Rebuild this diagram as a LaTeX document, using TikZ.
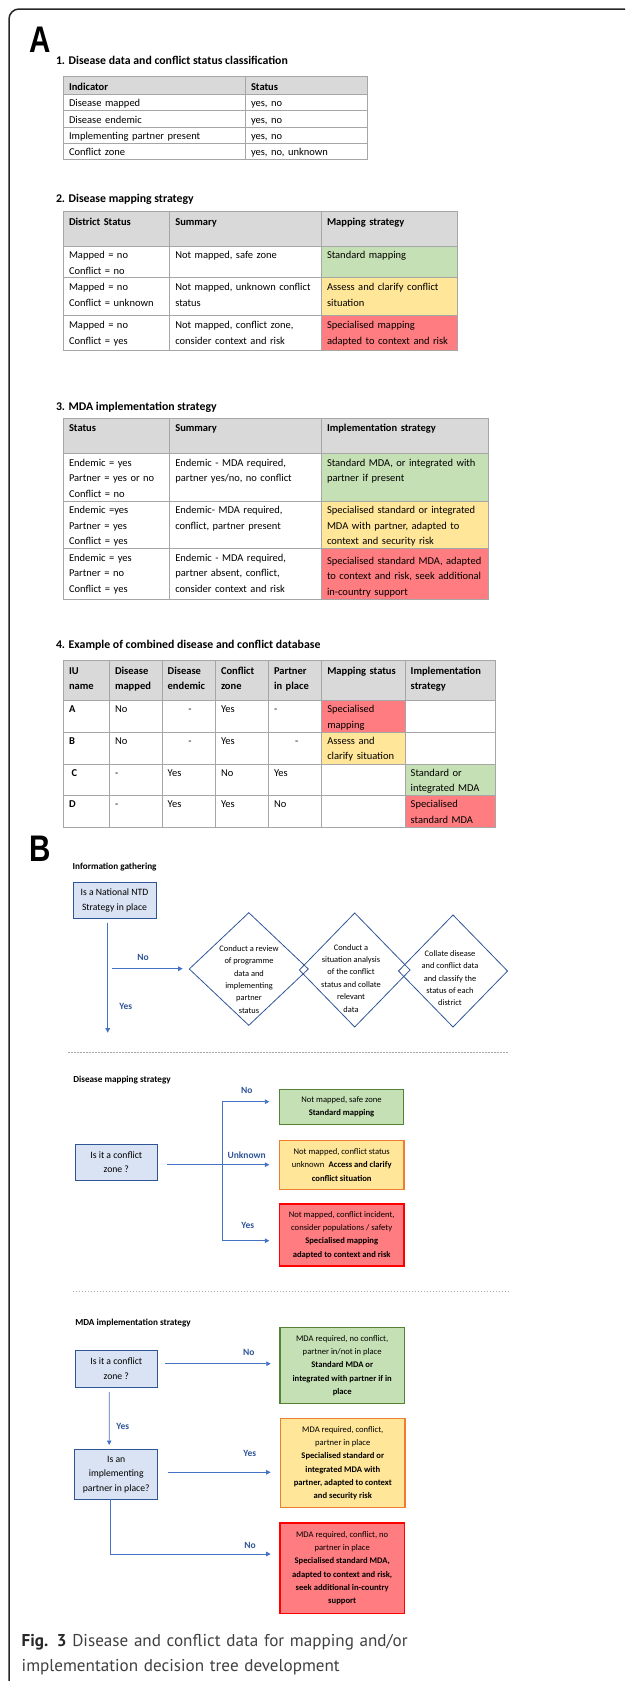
\documentclass[tikz,border=0pt]{standalone}
\usepackage{fontspec}
\setmainfont{Carlito}
\newfontfamily\captionfont{PT Sans}
\newfontfamily\panelfont{Liberation Sans}
\usetikzlibrary{arrows.meta,shapes.geometric}

\definecolor{headgray}{HTML}{D9D9D9}
\definecolor{tabline}{HTML}{A6A6A6}
\definecolor{okgreen}{HTML}{C5E0B4}
\definecolor{okgreenline}{HTML}{548235}
\definecolor{warnyellow}{HTML}{FFE699}
\definecolor{warnorange}{HTML}{ED7D31}
\definecolor{riskred}{HTML}{FF7C80}
\definecolor{riskredline}{HTML}{FF0000}
\definecolor{qblue}{HTML}{DAE3F3}
\definecolor{qblueline}{HTML}{2F5597}
\definecolor{flowblue}{HTML}{4472C4}
\definecolor{labelblue}{HTML}{2F5597}

\begin{document}
\begin{tikzpicture}[x=1pt,y=-1pt,
    every node/.style={inner sep=0pt,outer sep=0pt},
    panel/.style={anchor=base west,font=\panelfont\bfseries\fontsize{37}{40}\selectfont},
    sectitle/.style={anchor=base west,font=\bfseries\fontsize{11.8}{14}\selectfont},
    subtitle/.style={anchor=base west,font=\bfseries\fontsize{9.2}{11}\selectfont},
    cell/.style={anchor=base west,align=left,text width=#1,font=\fontsize{10.5}{15.5}\selectfont},
    cell/.default=40pt,
    headcell/.style={cell=#1,font=\bfseries\fontsize{10.5}{15.5}\selectfont},
    headcell/.default=40pt,
    grid/.style={draw=tabline,line width=0.9pt},
    question/.style={draw=qblueline,fill=qblue,line width=0.9pt,align=center,font=\fontsize{9.7}{14.2}\selectfont},
    outcome/.style={line width=1.2pt,align=center,font=\fontsize{8.6}{13.3}\selectfont},
    infodiamond/.style={diamond,draw=qblueline,line width=0.8pt},
    diamondtext/.style={align=center,font=\fontsize{8.4}{12.4}\selectfont},
    answer/.style={font=\bfseries\fontsize{9.5}{11}\selectfont,text=labelblue},
    flow/.style={draw=flowblue,line width=0.9pt,-{Triangle[length=4.5pt,width=4.5pt]}},
    flowline/.style={draw=flowblue,line width=0.9pt},
    sepline/.style={draw=black!35,line width=0.5pt,dash pattern=on 1.5pt off 1.5pt},
    caption/.style={anchor=base west,align=left,text width=440pt,font=\captionfont\fontsize{17.1}{25}\selectfont,text=black!75}]

\useasboundingbox (0,0) rectangle (625,1681);
\draw[line width=1.5pt,black!85,rounded corners=10pt] (9,1681) -- (9,9) -- (625,9);

% panel A
\node[panel] (panelA) at (29,52) {\scalebox{0.8}[1]{A}};

% 1. classification table
\node[sectitle] (classtitle) at (56,64.3) {1. Disease data and conflict status classification};
\fill[headgray] (63,76) rectangle (367,94);
\draw[grid] (63,76) rectangle (367,159);
\draw[grid] (63,94) -- (367,94) (63,110) -- (367,110) (63,127) -- (367,127) (63,143) -- (367,143) (245.7,76) -- (245.7,159);
\node[headcell=170pt] (indhead) at (69,90) {Indicator};
\node[headcell=110pt] (stathead) at (251,90) {Status};
\node[cell=170pt] (indmapped) at (69,106.5) {Disease mapped};
\node[cell=110pt] (statmapped) at (251,106.5) {yes, no};
\node[cell=170pt] (indendemic) at (69,123) {Disease endemic};
\node[cell=110pt] (statendemic) at (251,123) {yes, no};
\node[cell=170pt] (indpartner) at (69,139.3) {Implementing partner present};
\node[cell=110pt] (statpartner) at (251,139.3) {yes, no};
\node[cell=170pt] (indconflict) at (69,155.5) {Conflict zone};
\node[cell=110pt] (statconflict) at (251,155.5) {yes, no, unknown};

% 2. mapping table
\node[sectitle] (maptitle) at (56,202) {2. Disease mapping strategy};
\fill[headgray] (63,211) rectangle (457.7,246);
\fill[okgreen] (321.3,246) rectangle (457.7,277.7);
\fill[warnyellow] (321.3,277.7) rectangle (457.7,315.3);
\fill[riskred] (321.3,315.3) rectangle (457.7,350.7);
\draw[grid] (63,211) rectangle (457.7,350.7);
\draw[grid] (63,246) -- (457.7,246) (63,277.7) -- (457.7,277.7) (63,315.3) -- (457.7,315.3) (169.3,211) -- (169.3,350.7) (321.3,211) -- (321.3,350.7);
\node[headcell=96pt] (dshead) at (69,225) {District Status};
\node[headcell=142pt] (msumhead) at (175.3,225) {Summary};
\node[headcell=128pt] (mstrathead) at (327,225) {Mapping strategy};
\node[cell=96pt] (ds1) at (69,258.7) {Mapped = no\\Conflict = no};
\node[cell=142pt] (msum1) at (175.3,258.7) {Not mapped, safe zone};
\node[cell=128pt] (mstrat1) at (327,258.7) {Standard mapping};
\node[cell=96pt] (ds2) at (69,290.7) {Mapped = no\\Conflict = unknown};
\node[cell=142pt] (msum2) at (175.3,290.7) {Not mapped, unknown conflict\\status};
\node[cell=128pt] (mstrat2) at (327,290.7) {Assess and clarify conflict\\situation};
\node[cell=96pt] (ds3) at (69,328.7) {Mapped = no\\Conflict = yes};
\node[cell=142pt] (msum3) at (175.3,328.7) {Not mapped, conflict zone,\\consider context and risk};
\node[cell=128pt] (mstrat3) at (327,328.7) {Specialised mapping\\adapted to context and risk};

% 3. MDA table
\node[sectitle] (mdatitle) at (56,410) {3. MDA implementation strategy};
\fill[headgray] (63,418.3) rectangle (488.3,453.3);
\fill[okgreen] (321.3,453.3) rectangle (488.3,501.3);
\fill[warnyellow] (321.3,501.3) rectangle (488.3,548.7);
\fill[riskred] (321.3,548.7) rectangle (488.3,599);
\draw[grid] (63,418.3) rectangle (488.3,599);
\draw[grid] (63,453.3) -- (488.3,453.3) (63,501.3) -- (488.3,501.3) (63,548.7) -- (488.3,548.7) (169.3,418.3) -- (169.3,599) (321.3,418.3) -- (321.3,599);
\node[headcell=96pt] (sthead) at (69,431.7) {Status};
\node[headcell=142pt] (isumhead) at (175.3,431.7) {Summary};
\node[headcell=158pt] (istrathead) at (327,431.7) {Implementation strategy};
\node[cell=96pt] (st1) at (69,466) {Endemic = yes\\Partner = yes or no\\Conflict = no};
\node[cell=142pt] (isum1) at (175.3,466) {Endemic - MDA required,\\partner yes/no, no conflict};
\node[cell=158pt] (istrat1) at (327,466) {Standard MDA, or integrated with\\partner if present};
\node[cell=96pt] (st2) at (69,513.7) {Endemic =yes\\Partner = yes\\Conflict = yes};
\node[cell=142pt] (isum2) at (175.3,513.7) {Endemic- MDA required,\\conflict, partner present};
\node[cell=158pt] (istrat2) at (327,513.7) {Specialised standard or integrated\\MDA with partner, adapted to\\context and security risk};
\node[cell=96pt] (st3) at (69,561) {Endemic = yes\\Partner = no\\Conflict = yes};
\node[cell=142pt] (isum3) at (175.3,561) {Endemic - MDA required,\\partner absent, conflict,\\consider context and risk};
\node[cell=158pt] (istrat3) at (327,564.3) {Specialised standard MDA, adapted\\to context and risk, seek additional\\in-country support};

% 4. combined database
\node[sectitle] (dbtitle) at (56,648.3) {4. Example of combined disease and conflict database};
\fill[headgray] (63,660.7) rectangle (495.7,700.7);
\fill[riskred] (321.7,700.7) rectangle (405,732.3);
\fill[warnyellow] (321.7,732.3) rectangle (405,764);
\fill[okgreen] (405,764) rectangle (495.7,795.7);
\fill[riskred] (405,795.7) rectangle (495.7,827.7);
\draw[grid] (63,660.7) rectangle (495.7,827.7);
\draw[grid] (63,700.7) -- (495.7,700.7) (63,732.3) -- (495.7,732.3) (63,764) -- (495.7,764) (63,795.7) -- (495.7,795.7);
\draw[grid] (109,660.7) -- (109,827.7) (162,660.7) -- (162,827.7) (215,660.7) -- (215,827.7) (268.3,660.7) -- (268.3,827.7) (321.7,660.7) -- (321.7,827.7) (405,660.7) -- (405,827.7);
\node[headcell=36pt] (iuhead) at (69,674) {IU\\name};
\node[headcell=44pt] (mappedhead) at (115,674) {Disease\\mapped};
\node[headcell=44pt] (endemichead) at (167.7,674) {Disease\\endemic};
\node[headcell=44pt] (zonehead) at (221,674) {Conflict\\zone};
\node[headcell=44pt] (placehead) at (274,674) {Partner\\in place};
\node[headcell=74pt] (mstatushead) at (327.3,674) {Mapping status};
\node[headcell=80pt] (implhead) at (410.7,674) {Implementation\\strategy};
\node[headcell=12pt] (iuA) at (69,712.7) {A};
\node[cell=30pt] (mappedA) at (115,712.7) {No};
\node[cell=12pt] (endemicA) at (188.3,712.7) {-};
\node[cell=30pt] (zoneA) at (221,712.7) {Yes};
\node[cell=12pt] (placeA) at (274,712.7) {-};
\node[cell=74pt] (mstatusA) at (327.3,712.7) {Specialised\\mapping};
\node[headcell=12pt] (iuB) at (69,744.3) {B};
\node[cell=30pt] (mappedB) at (115,744.3) {No};
\node[cell=12pt] (endemicB) at (188.3,744.3) {-};
\node[cell=30pt] (zoneB) at (221,744.3) {Yes};
\node[cell=12pt] (placeB) at (295,744.3) {-};
\node[cell=74pt] (mstatusB) at (327.3,744.3) {Assess and\\clarify situation};
\node[headcell=12pt] (iuC) at (71.7,776) {C};
\node[cell=12pt] (mappedC) at (115,776) {-};
\node[cell=30pt] (endemicC) at (167.7,776) {Yes};
\node[cell=30pt] (zoneC) at (221,776) {No};
\node[cell=30pt] (placeC) at (274,776) {Yes};
\node[cell=80pt] (implC) at (410.7,776) {Standard or\\integrated MDA};
\node[headcell=12pt] (iuD) at (69,807.7) {D};
\node[cell=12pt] (mappedD) at (115,807.7) {-};
\node[cell=30pt] (endemicD) at (167.7,807.7) {Yes};
\node[cell=30pt] (zoneD) at (221,807.7) {Yes};
\node[cell=30pt] (placeD) at (274,807.7) {No};
\node[cell=80pt] (implD) at (410.7,807.7) {Specialised\\standard MDA};

% panel B
\node[panel] (panelB) at (29,861.5) {\scalebox{0.8}[1]{B}};

% information gathering
\node[subtitle] (gathertitle) at (72.7,869) {Information gathering};
\node[question,minimum width=83pt,minimum height=36.4pt] (ntd) at (114.5,900.5) {Is a National NTD\\Strategy in place};
\node[infodiamond,minimum width=119pt,minimum height=112.6pt] (review) at (248.8,969) {};
\node[infodiamond,minimum width=110.7pt,minimum height=114pt] (situation) at (354.7,970) {};
\node[infodiamond,minimum width=109pt,minimum height=112pt] (collate) at (453,971) {};
\node[diamondtext] (reviewtext) at (249,979.5) {Conduct a review\\of programme\\data and\\implementing\\partner\\status};
\node[diamondtext] (situationtext) at (351,978.3) {Conduct a\\situation analysis\\of the conflict\\status and collate\\relevant\\data};
\node[diamondtext] (collatetext) at (450,978.3) {Collate disease\\and conflict data\\and classify the\\status of each\\district};
\coordinate (gatherend) at (107.7,1032.7);
\coordinate (nostart) at (111.7,968.7);
\draw[flow,shorten <=4pt] ([xshift=-6.8pt]ntd.south) -- (gatherend);
\draw[flow,shorten >=6.6pt] (nostart) -- (nostart -| review.west);
\node[answer] (gatherno) at (143,957) {No};
\node[answer] (gatheryes) at (125.7,1006) {Yes};
\draw[sepline] (68,1052) -- (507.7,1052);

% disease mapping strategy
\node[subtitle] (maptree) at (73.3,1082.7) {Disease mapping strategy};
\node[question,minimum width=82.7pt,minimum height=36.4pt] (mapq) at (116.3,1162.5) {Is it a conflict\\zone ?};
\node[outcome,draw=okgreenline,fill=okgreen,minimum width=124.4pt,minimum height=35.4pt] (mapsafe) at (341.5,1107) {Not mapped, safe zone\\\textbf{Standard mapping}};
\node[outcome,draw=warnorange,fill=warnyellow,minimum width=124.7pt,minimum height=49.4pt] (mapunknown) at (341.7,1165) {Not mapped, conflict status\\unknown\enspace\textbf{Access and clarify}\\\textbf{conflict situation}};
\node[outcome,draw=riskredline,fill=riskred,minimum width=124.7pt,minimum height=62pt] (maprisk) at (341.7,1235) {Not mapped, conflict incident,\\consider populations / safety\\\textbf{Specialised mapping}\\\textbf{adapted to context and risk}};
\coordinate (mapstart) at (167.3,1164.7);
\coordinate (forktop) at (222,1101.7);
\coordinate (forkbot) at (222,1240.7);
\draw[flowline] (forktop) -- (forkbot);
\draw[flow,shorten >=10pt] (forktop) -- (forktop -| mapsafe.west);
\draw[flow,shorten >=10pt] (mapstart) -- (mapstart -| mapunknown.west);
\draw[flow,shorten >=10pt] (forkbot) -- (forkbot -| maprisk.west);
\node[answer] (mapno) at (246.7,1090) {No};
\node[answer] (mapunk) at (246.7,1154.7) {Unknown};
\node[answer] (mapyes) at (247.7,1225.7) {Yes};
\draw[sepline] (72.7,1291) -- (508.3,1291);

% MDA implementation strategy
\node[subtitle] (mdatree) at (75.3,1325) {MDA implementation strategy};
\node[question,minimum width=82.7pt,minimum height=36.7pt] (mdaq) at (116.3,1368.7) {Is it a conflict\\zone ?};
\node[question,minimum width=83pt,minimum height=49.6pt] (partnerq) at (116.2,1474.5) {Is an\\implementing\\partner in place?};
\node[outcome,draw=okgreenline,fill=okgreen,minimum width=124.3pt,minimum height=76.4pt] (mdagreen) at (342.2,1365.5) {MDA required, no conflict,\\partner in/not in place\\\textbf{Standard MDA or}\\\textbf{integrated with partner if in}\\\textbf{place}};
\node[outcome,draw=warnorange,fill=warnyellow,minimum width=124.3pt,minimum height=89pt] (mdayellow) at (342.8,1463.2) {MDA required, conflict,\\partner in place\\\textbf{Specialised standard or}\\\textbf{integrated MDA with}\\\textbf{partner, adapted to context}\\\textbf{and security risk}};
\node[outcome,draw=riskredline,fill=riskred,minimum width=124.3pt,minimum height=90.7pt] (mdared) at (342.2,1568.3) {MDA required, conflict, no\\partner in place\\\textbf{Specialised standard MDA,}\\\textbf{adapted to context and risk,}\\\textbf{seek additional in-country}\\\textbf{support}};
\coordinate (mdastart) at (164.7,1363.7);
\coordinate (partnerstart) at (168.3,1472.3);
\coordinate (mdaend) at (270.7,1554);
\draw[flow,shorten >=9.3pt] (mdastart) -- (mdastart -| mdagreen.west);
\draw[flow,shorten <=4.7pt,shorten >=4.7pt] ([xshift=-7pt]mdaq.south) -- ([xshift=-7pt]partnerq.north);
\draw[flow,shorten >=10pt] (partnerstart) -- (partnerstart -| mdayellow.west);
\draw[flow] ([xshift=-6pt]partnerq.south) |- (mdaend);
\node[answer] (mdano) at (248.7,1352.3) {No};
\node[answer] (mdayes) at (122.7,1426) {Yes};
\node[answer] (partneryes) at (249.7,1453.3) {Yes};
\node[answer] (partnerno) at (250,1545.7) {No};

% caption
\node[caption] (figcaption) at (21.7,1646.7) {{\bfseries\color{black!85}Fig. 3} Disease and conflict data for mapping and/or\\implementation decision tree development};
\end{tikzpicture}
\end{document}
